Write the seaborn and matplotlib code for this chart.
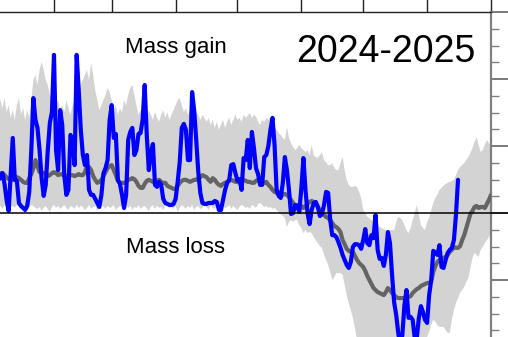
import numpy as np
import pandas as pd
import matplotlib
matplotlib.use("Agg")
import matplotlib.pyplot as plt
import matplotlib.dates as mdates
from matplotlib.ticker import MultipleLocator, NullFormatter
import seaborn as sns

# ---------------- data (Gt / day) ----------------
season_start = "2024-09-01"
season_end = "2025-09-01"
clim_start = "2025-01-05"   # first day of the climatology arrays
obs_start = "2025-01-05"    # first day of the observed season

observed = [1.00,
    1.04, 1.19, 0.87, 0.39, 0.06, 1.13, 2.24, 0.99, 0.96, 0.30,
    0.21, 0.15, 0.09, 0.21, 0.63, 1.88, 3.43, 2.78, 2.54, 1.88,
    1.04, 0.51, 0.84, 1.88, 2.69, 3.01, 4.72, 1.88, 1.28, 3.07,
    2.63, 1.13, 0.54, 0.69, 2.33, 2.18, 1.43, 4.72, 3.67, 2.48,
    1.73, 1.43, 1.73, 0.69, 0.54, 0.54, 0.42, 0.30, 0.18, 0.54,
    1.19, 1.34, 1.58, 2.78, 3.22, 2.24, 2.36, 0.99, 0.87, 0.54,
    0.15, 0.54, 2.18, 2.42, 2.54, 1.73, 1.88, 2.36, 2.39, 2.78,
    3.82, 2.33, 1.28, 1.79, 2.06, 0.84, 0.78, 0.93, 0.84, 0.42,
    0.30, 0.27, 0.24, 0.24, 0.27, 0.42, 0.93, 1.52, 2.54, 2.66,
    2.48, 1.58, 1.58, 3.61, 3.07, 2.18, 1.22, 0.60, 0.30, 0.27,
    0.27, 0.30, 0.30, 0.30, 0.36, 0.33, 0.09, 0.09, 0.39, 0.69,
    0.90, 0.99, 1.43, 1.46, 1.19, 0.96, 1.01, 0.69, 1.64, 1.58,
    2.18, 1.34, 2.42, 1.94, 1.34, 1.16, 0.84, 0.84, 1.67, 1.73,
    2.00, 2.48, 2.84, 2.03, 0.69, 0.51, 0.45, 0.90, 1.67, 1.28,
    0.69, -0.03, 0.00, 0.24, 0.21, 0.03, 0.75, 1.64, 0.69, 0.00,
    -0.33, 0.09, 0.30, 0.33, 0.18, -0.09, -0.03, 0.24, 0.63, 0.60,
    -0.21, -0.66, -0.66, -0.72, -0.87, -1.04, -1.25, -1.40, -1.55, -1.64,
    -1.46, -1.01, -0.93, -0.93, -0.96, -1.07, -0.81, -0.48, -0.90, -0.96,
    -0.66, -0.75, -0.06, -1.10, -1.37, -1.34, -1.58, -1.25, -0.57, -0.90,
    -1.85, -2.66, -3.04, -3.58, -3.97, -3.64, -2.75, -2.30, -3.13, -3.10,
    -3.19, -3.73, -3.73, -3.13, -2.78, -2.96, -3.19, -3.28, -2.45, -2.00,
    -1.13, -1.19, -1.25, -0.96, -1.61, -1.64, -1.40, -1.19, -1.10, -1.04,
    -0.81, -0.06, 0.99]

clim_mean = [
    1.19, 1.19, 1.19, 1.13, 1.07, 1.01, 0.99, 0.99, 1.04, 1.07,
    1.04, 0.99, 0.93, 0.90, 0.90, 1.04, 1.16, 1.34, 1.58, 1.40,
    1.22, 1.22, 1.19, 1.16, 1.10, 1.13, 1.19, 1.22, 1.19, 1.13,
    1.16, 1.16, 1.10, 1.10, 1.13, 1.13, 1.13, 1.10, 1.13, 1.16,
    1.13, 1.13, 1.22, 1.40, 1.37, 1.28, 1.10, 0.99, 0.90, 0.93,
    0.99, 1.10, 1.22, 1.34, 1.40, 1.43, 1.28, 1.13, 0.96, 0.90,
    0.90, 0.90, 0.93, 0.99, 1.01, 1.04, 1.01, 0.93, 0.81, 0.75,
    0.75, 0.87, 0.96, 0.99, 0.96, 0.93, 0.90, 0.96, 0.99, 0.93,
    0.90, 0.90, 0.81, 0.78, 0.75, 0.72, 0.72, 0.81, 0.90, 0.96,
    0.99, 0.99, 0.96, 0.93, 0.96, 0.99, 0.99, 1.04, 1.07, 1.13,
    1.10, 1.07, 0.99, 0.93, 1.04, 0.99, 0.90, 0.84, 0.81, 0.87,
    0.90, 0.93, 0.96, 0.99, 0.96, 0.93, 0.93, 0.90, 0.93, 0.99,
    0.96, 0.93, 0.93, 0.90, 0.90, 0.96, 0.99, 0.93, 0.90, 0.90,
    0.93, 0.84, 0.78, 0.69, 0.63, 0.60, 0.63, 0.57, 0.54, 0.57,
    0.54, 0.48, 0.39, 0.30, 0.21, 0.24, 0.24, 0.21, 0.15, 0.21,
    0.27, 0.33, 0.36, 0.33, 0.27, 0.18, 0.09, -0.03, -0.06, -0.12,
    -0.15, -0.21, -0.30, -0.39, -0.42, -0.48, -0.57, -0.81, -0.93, -1.07,
    -1.13, -1.16, -1.16, -1.28, -1.40, -1.49, -1.55, -1.61, -1.73, -1.88,
    -2.00, -2.12, -2.24, -2.30, -2.36, -2.39, -2.42, -2.45, -2.36, -2.24,
    -2.30, -2.39, -2.45, -2.51, -2.54, -2.54, -2.54, -2.54, -2.51, -2.51,
    -2.48, -2.39, -2.33, -2.27, -2.24, -2.18, -2.15, -2.12, -2.09, -2.09,
    -2.03, -1.76, -1.58, -1.46, -1.40, -1.37, -1.34, -1.31, -1.25, -1.16,
    -1.10, -1.01, -1.04, -1.04, -0.99, -0.81, -0.66, -0.45, -0.24, -0.03,
    0.06, 0.18, 0.21, 0.15, 0.18, 0.18, 0.15, 0.27, 0.39, 0.54]

clim_high = [
    3.22, 3.37, 3.13, 3.43, 3.01, 3.22, 2.84, 3.07, 2.78, 3.22,
    3.43, 2.93, 3.13, 2.78, 3.07, 2.84, 3.37, 3.97, 4.12, 3.82,
    4.27, 4.51, 4.27, 3.97, 3.82, 3.52, 3.37, 3.43, 3.22, 3.37,
    3.07, 3.22, 3.01, 3.37, 3.13, 2.93, 3.22, 3.37, 3.52, 3.43,
    3.82, 3.97, 4.12, 4.27, 3.97, 4.48, 4.12, 3.67, 3.37, 3.07,
    3.22, 3.37, 3.52, 3.73, 3.61, 3.37, 3.07, 3.22, 2.93, 3.13,
    3.01, 3.37, 3.22, 3.52, 3.73, 3.82, 3.52, 3.22, 2.93, 3.07,
    2.84, 3.01, 2.78, 3.07, 2.93, 2.78, 3.01, 2.84, 2.72, 2.93,
    3.07, 2.84, 3.01, 2.78, 2.93, 3.07, 3.22, 3.37, 3.43, 3.22,
    3.01, 3.13, 2.93, 3.07, 2.99, 2.84, 3.01, 2.93, 2.78, 2.93,
    2.84, 2.72, 2.84, 2.63, 2.78, 2.54, 2.72, 2.48, 2.63, 2.78,
    2.54, 2.72, 2.84, 2.63, 2.78, 2.93, 2.78, 2.84, 2.72, 2.93,
    2.84, 2.90, 2.99, 2.84, 2.93, 2.87, 2.72, 2.63, 2.78, 2.72,
    2.84, 2.78, 2.87, 2.72, 2.57, 2.48, 2.39, 2.33, 2.24, 2.18,
    2.57, 2.24, 2.09, 1.97, 1.88, 1.94, 2.03, 1.94, 1.88, 1.82,
    1.88, 1.73, 2.03, 1.73, 1.67, 1.64, 1.73, 1.82, 1.58, 1.52,
    1.43, 1.43, 1.49, 1.34, 1.28, 1.28, 1.49, 1.67, 1.28, 0.99,
    0.84, 0.78, 0.78, 0.81, 0.78, 0.63, 0.45, 0.09, 0.00, -0.12,
    -0.15, -0.21, -0.21, -0.27, -0.36, -0.42, -0.45, -0.48, -0.51, -0.51,
    -0.51, -0.51, -0.51, -0.27, -0.12, -0.15, -0.21, -0.36, -0.51, -0.60,
    -0.45, -0.21, 0.00, 0.24, -0.06, -0.36, -0.45, -0.51, -0.27, -0.15,
    0.09, 0.30, 0.45, 0.54, 0.69, 0.75, 0.81, 0.87, 0.90, 0.93,
    0.96, 0.99, 1.13, 1.28, 1.37, 1.43, 1.49, 1.58, 1.67, 1.79,
    1.94, 2.12, 2.27, 2.03, 1.82, 1.88, 2.03, 2.18, 2.09, 1.97]

clim_low = [
    0.18, 0.21, 0.12, 0.24, 0.15, 0.09, 0.18, 0.21, 0.15, 0.24,
    0.18, 0.12, 0.21, 0.15, 0.09, 0.18, 0.24, 0.21, 0.15, 0.12,
    0.18, 0.06, 0.15, 0.21, 0.12, 0.03, 0.18, 0.24, 0.15, 0.21,
    0.12, 0.18, 0.24, 0.15, 0.09, 0.21, 0.18, 0.12, 0.24, 0.15,
    0.21, 0.18, 0.09, 0.15, 0.24, 0.12, 0.18, 0.21, 0.06, 0.15,
    0.24, 0.18, 0.12, 0.21, 0.15, 0.18, 0.24, 0.09, 0.15, 0.21,
    0.18, 0.12, 0.24, 0.15, 0.21, 0.09, 0.18, 0.15, 0.24, 0.12,
    0.18, 0.21, 0.15, 0.06, 0.18, 0.24, 0.12, 0.21, 0.15, 0.18,
    0.09, 0.21, 0.24, 0.15, 0.18, 0.12, 0.21, 0.03, 0.15, 0.24,
    0.18, 0.12, 0.21, 0.15, 0.24, 0.09, 0.18, 0.21, 0.12, 0.15,
    0.24, 0.18, 0.09, 0.21, 0.15, 0.12, 0.24, 0.18, 0.06, 0.21,
    0.15, 0.18, 0.24, 0.12, 0.21, 0.15, 0.09, 0.18, 0.24, 0.21,
    0.15, 0.18, 0.12, 0.24, 0.21, 0.15, 0.27, 0.30,
    0.24, 0.18, 0.21, 0.15, 0.18, 0.12, 0.15, 0.09, 0.03, -0.03,
    -0.09, -0.15, -0.42, -0.27, -0.21, -0.27, -0.21, -0.21, -0.36, -0.45,
    -0.60, -0.51, -0.60, -0.57, -0.60, -0.72, -0.81, -0.90, -0.99, -1.04,
    -1.25, -1.40, -1.55, -1.76, -2.00, -1.91, -1.79, -1.79, -1.79, -1.85,
    -2.15, -2.45, -2.69, -2.90, -3.13, -3.43, -3.79,
    -4.0, -4.2, -4.3, -4.5, -4.6, -4.8, -4.9, -5.0, -5.1, -5.2,
    -5.3, -5.3, -5.4, -5.5, -5.5, -5.6, -5.6, -5.5, -5.5, -5.4,
    -5.4, -5.3, -5.2, -5.1, -5.0, -4.9, -4.8, -4.7, -4.6, -4.5,
    -4.3, -4.1, -3.9,
    -3.70, -3.55, -3.34, -3.19, -3.25, -3.34, -3.40, -3.40, -3.40, -3.49,
    -3.58, -3.58, -3.19, -2.90, -2.69, -2.54, -2.39, -2.30, -2.21, -2.06,
    -1.94, -1.64, -1.34, -1.19, -1.25, -1.31, -1.10, -1.01, -0.90, -0.81,
    -0.72, -0.60]

label_gain = "Mass gain"
label_loss = "Mass loss"
season_label = "2024-2025"

# ---------------- frames ----------------
clim = pd.DataFrame({
    "date": pd.date_range(clim_start, periods=len(clim_mean), freq="D"),
    "mean": clim_mean, "low": clim_low, "high": clim_high})
obs = pd.DataFrame({
    "date": pd.date_range(obs_start, periods=len(observed), freq="D"),
    "smb": observed})

# ---------------- figure ----------------
sns.set_style("white")
plt.rcParams["font.family"] = ["Liberation Sans", "DejaVu Sans"]

W, H = 508, 337
fig = plt.figure(figsize=(W / 100, H / 100), dpi=100)
ax = fig.add_axes([-261.4 / W, 1 - 12 / H - 402 / H, 752.4 / W, 402 / H])

ax.fill_between(clim["date"], clim["low"], clim["high"],
                color="#d3d3d3", linewidth=0, zorder=1)
sns.lineplot(data=clim, x="date", y="mean", ax=ax, color="#646464",
             linewidth=3.0, zorder=3, solid_joinstyle="round",
             solid_capstyle="round")
sns.lineplot(data=obs, x="date", y="smb", ax=ax, color="#0000ff",
             linewidth=3.0, zorder=4, solid_joinstyle="round",
             solid_capstyle="round")

ax.plot([0, 1.05], [0, 0], transform=ax.get_yaxis_transform(),
        color="black", linewidth=1.1, clip_on=False, zorder=5)

ax.set_xlim(pd.Timestamp(season_start), pd.Timestamp(season_end))
ax.set_ylim(-6, 6)
ax.set_xlabel("")
ax.set_ylabel("")

ax.xaxis.tick_top()
ax.xaxis.set_major_locator(mdates.MonthLocator())
ax.xaxis.set_major_formatter(NullFormatter())
ax.tick_params(axis="x", direction="out", length=12, width=1.0,
               color="#222222", top=True, bottom=False)

ax.yaxis.tick_right()
ax.yaxis.set_major_locator(MultipleLocator(2))
ax.yaxis.set_minor_locator(MultipleLocator(0.5))
ax.yaxis.set_major_formatter(NullFormatter())
ax.tick_params(axis="y", which="major", direction="out", length=16,
               width=1.3, color="#707070", right=True, left=False)
ax.tick_params(axis="y", which="minor", direction="out", length=6,
               width=1.0, color="#808080", right=True, left=False)

for side in ["left", "bottom"]:
    ax.spines[side].set_visible(False)
ax.spines["top"].set_color("#222222")
ax.spines["top"].set_linewidth(1.0)
ax.spines["right"].set_color("#808080")
ax.spines["right"].set_linewidth(1.6)

fig.text(176 / W, 1 - 52.7 / H, label_gain, ha="center", va="baseline",
         fontsize=16, color="black")
fig.text(175.5 / W, 1 - 253 / H, label_loss, ha="center", va="baseline",
         fontsize=16, color="black")
fig.text(476 / W, 1 - 62 / H, season_label, ha="right", va="baseline",
         fontsize=27, color="black")

fig.savefig("out.png", dpi=100)
